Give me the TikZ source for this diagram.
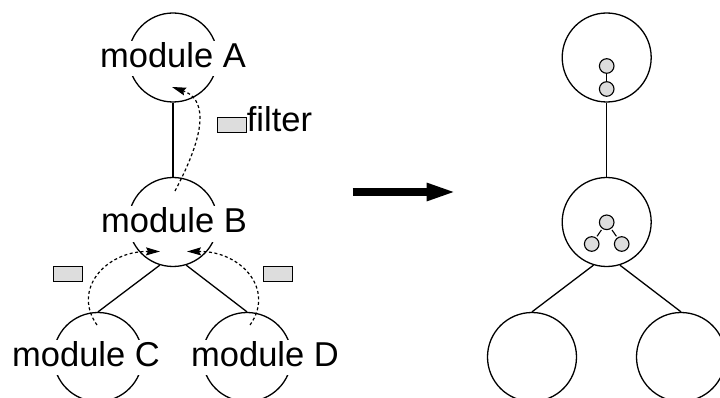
\documentclass[tikz,border=0pt]{standalone}
\usepackage{fontspec}
\setmainfont{Liberation Sans}
\usetikzlibrary{arrows.meta}
\definecolor{filtergray}{RGB}{221,221,221}
\begin{document}
\begin{tikzpicture}[x=1pt,y=-1pt,
  module/.style={circle, draw, line width=1.3pt, minimum size=89pt, inner sep=0pt},
  modlabel/.style={fill=white, inner sep=1pt, text height=25pt, text depth=8pt,
    font=\fontsize{34.5}{40}\selectfont, anchor=base},
  plainlabel/.style={inner sep=0pt, font=\fontsize{34.5}{40}\selectfont},
  link/.style={line width=1.3pt},
  flow/.style={line width=1.2pt, dash pattern=on 3pt off 2.5pt,
    -{Stealth[length=14pt,width=8pt,inset=2pt]}},
  filterbox/.style={draw, fill=filtergray, line width=1pt, minimum width=29pt,
    minimum height=15pt, inner sep=0pt},
  submodule/.style={circle, draw, fill=filtergray, line width=1.1pt,
    minimum size=14.6pt, inner sep=0pt},
  bigarrow/.style={line width=7.7pt, -{Triangle[length=30pt,width=16pt]}}
]
\useasboundingbox (0,0) rectangle (720,398);
\clip (0,0) rectangle (720,398);

% ---- module hierarchy with filters ----
\node[module] (A) at (173,57.5) {};
\node[module] (B) at (173,222) {};
\node[module] (C) at (98,357) {};
\node[module] (D) at (247,357) {};

\draw[link] (A.south) -- (B.north);
\draw[link] (B.-107) -- (C.north);
\draw[link] (B.-73) -- (D.north);

\node[modlabel] (lA) at (173,67.3) {module A};
\node[modlabel] (lB) at (174,232.5) {module B};
\node[modlabel] (lC) at (86,366) {module C};
\node[modlabel] (lD) at (265,366) {module D};

% filter flows from child modules into parents
\coordinate (fromB) at (175,191);
\coordinate (intoA) at (172,87);
\coordinate (fromC) at (97,325);
\coordinate (intoBl) at (160,251.5);
\coordinate (fromD) at (250,325);
\coordinate (intoBr) at (187,251.5);

\draw[flow] (fromB) .. controls (210,125) and (204,98) .. (intoA);
\draw[flow] (fromC) .. controls (72,290) and (105,251) .. (intoBl);
\draw[flow] (fromD) .. controls (275,290) and (242,251) .. (intoBr);

\node[filterbox] (f1) at (231.8,124.8) {};
\node[plainlabel, anchor=base west] (f1lbl) at (246.7,131.7) {filter};
\node[filterbox] (f2) at (68.3,274.2) {};
\node[filterbox] (f3) at (278,274.2) {};

% ---- transformation arrow ----
\coordinate (arrowS) at (352.7,192);
\coordinate (arrowE) at (456.7,192);
\draw[bigarrow] (arrowS) -- (arrowE);

% ---- resulting hierarchy ----
\node[module] (A2) at (606.7,57.5) {};
\node[module] (B2) at (606.7,222) {};
\node[module] (C2) at (532,357) {};
\node[module] (D2) at (681,357) {};

\draw[link] (A2.south) -- (B2.north);
\draw[link] (B2.-107) -- (C2.north);
\draw[link] (B2.-73) -- (D2.north);

% merged filters inside A
\node[submodule] (a1) at (606.7,66) {};
\node[submodule] (a2) at (606.7,89) {};
\draw[line width=1.1pt] (a1) -- (a2);

% merged filters inside B
\node[submodule] (b1) at (606.7,222.3) {};
\node[submodule] (b2) at (591.7,244) {};
\node[submodule] (b3) at (621.7,244) {};
\draw[line width=1.1pt, shorten <=1.5pt, shorten >=1.5pt] (b1) -- (b2);
\draw[line width=1.1pt, shorten <=1.5pt, shorten >=1.5pt] (b1) -- (b3);
\end{tikzpicture}
\end{document}
